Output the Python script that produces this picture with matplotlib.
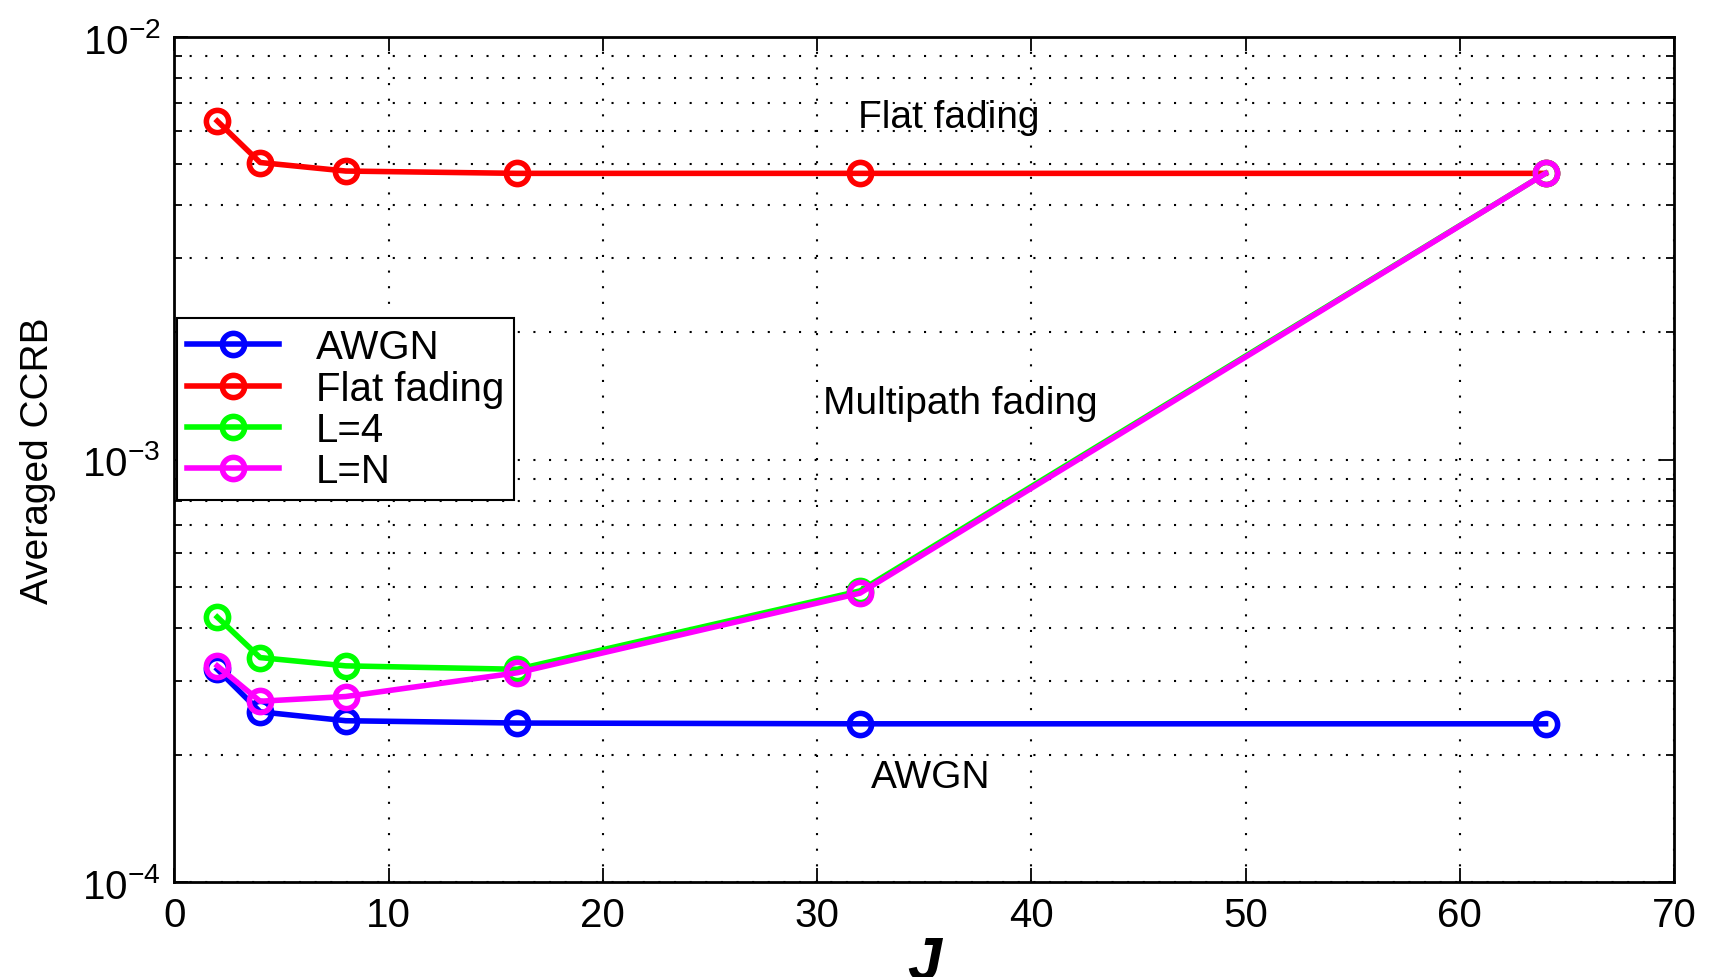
import numpy as np
import matplotlib
matplotlib.use("Agg")
import matplotlib.pyplot as plt
from matplotlib.ticker import LogLocator, NullFormatter, FixedLocator

plt.rcParams['font.family'] = ['Liberation Sans', 'DejaVu Sans']
plt.rcParams['mathtext.fontset'] = 'custom'
plt.rcParams['mathtext.rm'] = 'Liberation Sans'
plt.rcParams['mathtext.it'] = 'Liberation Sans:italic'

J = [2, 4, 8, 16, 32, 64]
awgn = [3.19e-4, 2.53e-4, 2.41e-4, 2.38e-4, 2.37e-4, 2.37e-4]
flat = [6.33e-3, 5.05e-3, 4.82e-3, 4.76e-3, 4.76e-3, 4.76e-3]
l4 = [4.24e-4, 3.40e-4, 3.25e-4, 3.19e-4, 4.89e-4, 4.76e-3]
ln = [3.25e-4, 2.68e-4, 2.75e-4, 3.13e-4, 4.83e-4, 4.76e-3]

series = [("AWGN", awgn, "#0000ff"), ("Flat fading", flat, "#ff0000"),
          ("L=4", l4, "#00ff00"), ("L=N", ln, "#ff00ff")]

fig = plt.figure(figsize=(17.1, 9.78), dpi=100)
ax = fig.add_axes([0.102, 0.097, 0.877, 0.864])

for name, vals, col in series:
    ax.plot(J, vals, '-o', color=col, lw=4, ms=16, mfc='none', mew=4, label=name)

ax.set_yscale('log')
ax.set_xlim(0, 70)
ax.set_ylim(1e-4, 1e-2)
ax.set_xticks(range(0, 71, 10))
ax.yaxis.set_major_locator(FixedLocator([1e-4, 1e-3, 1e-2]))
ax.yaxis.set_minor_locator(LogLocator(base=10, subs=np.arange(2, 10)))
ax.yaxis.set_minor_formatter(NullFormatter())
ax.set_yticklabels([r'$10^{-4}$', r'$10^{-3}$', r'$10^{-2}$'])

dots = (0, (1, 6.5))
ax.grid(True, which='major', color='k', linestyle=dots, linewidth=1.5)
ax.grid(True, which='minor', axis='y', color='k', linestyle=dots, linewidth=1.5)
ax.tick_params(which='both', direction='in', top=True, right=True, labelsize=29, pad=10)
ax.tick_params(which='major', length=10, width=1.3)
ax.tick_params(which='minor', length=6, width=1.3)
for s in ax.spines.values():
    s.set_linewidth(2)

ax.set_ylabel('Averaged CCRB', fontsize=28)
ax.yaxis.set_label_coords(-0.091, 0.5)
ax.yaxis.label.set_va('center')
ax.set_xlabel('J', fontsize=44, fontstyle='italic', fontweight='bold', labelpad=0)

ax.text(36.15, 6.48e-3, 'Flat fading', fontsize=28, ha='center', va='center')
ax.text(36.66, 1.36e-3, 'Multipath fading', fontsize=28, ha='center', va='center')
ax.text(35.3, 1.77e-4, 'AWGN', fontsize=28, ha='center', va='center')

leg = ax.legend(loc='lower left', bbox_to_anchor=(0.0015, 0.452), fontsize=29, fancybox=False,
                framealpha=1, edgecolor='k', handlelength=2.3, borderpad=0.25, labelspacing=0.08,
                handletextpad=0.9, borderaxespad=0)
leg.get_frame().set_linewidth(1.5)

fig.savefig('out.png', dpi=100)
